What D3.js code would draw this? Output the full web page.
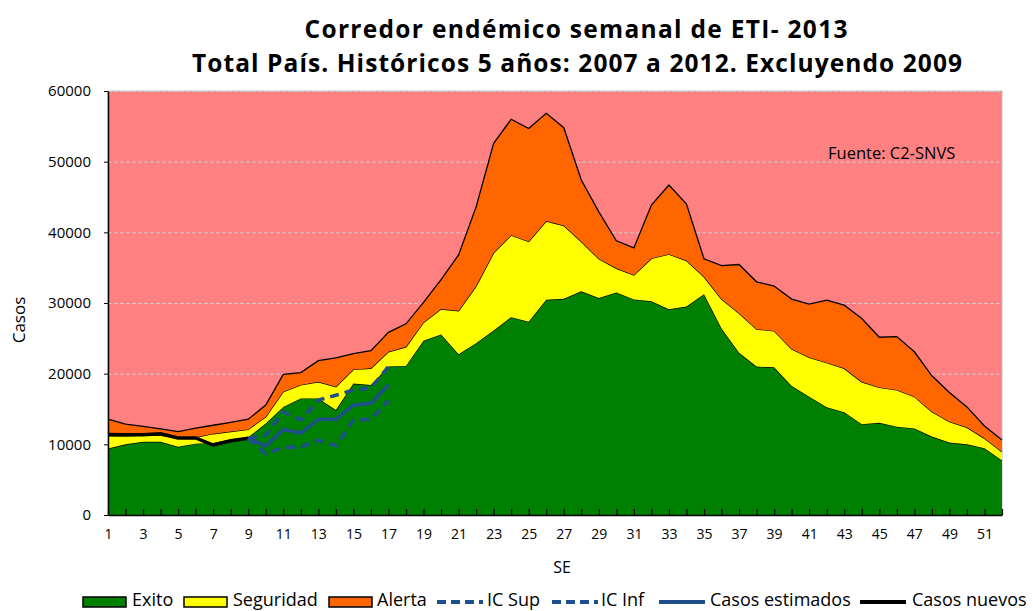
<!DOCTYPE html>
<html>
<head>
<meta charset="utf-8">
<script src="https://cdn.jsdelivr.net/npm/d3@7"></script>
<style>
  body { margin: 0; background: #fff; }
  text { font-family: "Open Sans", sans-serif; fill: #000; }
</style>
</head>
<body>
<div id="chart"></div>
<script>
// Semanas epidemiologicas
var weeks = d3.range(1, 53);

// Limites superiores de cada zona (acumulados)
var exito = [9400, 10000, 10350, 10350, 9650, 10100, 10200, 10700, 11000, 12950,
  15300, 16500, 16500, 14850, 18600, 18400, 21000, 21100, 24650, 25550,
  22750, 24300, 26100, 28000, 27350, 30450, 30600, 31650, 30700, 31500,
  30500, 30250, 29100, 29500, 31250, 26400, 22950, 21000, 20900, 18250,
  16750, 15250, 14550, 12850, 13050, 12500, 12250, 11100, 10250, 10000,
  9450, 7700];
var seguridad = [11200, 11200, 11300, 11300, 10900, 11000, 11500, 11800, 12100, 13900,
  17450, 18400, 18850, 18150, 20600, 20750, 23100, 23800, 27250, 29150,
  28900, 32400, 37100, 39600, 38700, 41600, 40950, 38700, 36250, 34900,
  33950, 36300, 36900, 36000, 33700, 30550, 28550, 26300, 26050, 23500,
  22300, 21550, 20750, 18850, 18050, 17700, 16750, 14600, 13200, 12400,
  10850, 8950];
var alerta = [13550, 12850, 12550, 12200, 11800, 12300, 12700, 13100, 13550, 15550,
  19900, 20150, 21850, 22250, 22850, 23250, 25850, 27050, 30100, 33300,
  36800, 43600, 52600, 56000, 54700, 56850, 54800, 47400, 42900, 38800,
  37800, 43850, 46700, 44000, 36250, 35300, 35450, 33000, 32400, 30550,
  29850, 30400, 29700, 27800, 25150, 25250, 23100, 19700, 17350, 15300,
  12600, 10600];

// Casos 2013
var nuevosWeeks = [1, 2, 3, 4, 5, 6, 7, 8, 9];
var casosNuevos = [11400, 11350, 11350, 11500, 10900, 10900, 9900, 10500, 10850];
var estimWeeks = [9, 10, 11, 12, 13, 14, 15, 16, 17];
var casosEstimados = [10850, 9750, 12100, 11600, 13550, 13550, 15550, 15800, 18450];
var icSup = [10850, 11300, 14600, 13450, 16250, 16950, 17700, 18000, 21000];
var icInf = [10850, 8650, 9600, 9600, 10600, 9800, 13450, 13550, 16200];

var yTicks = [0, 10000, 20000, 30000, 40000, 50000, 60000];

var width = 1033, height = 611;
var margin = {top: 91, right: 31, bottom: 96, left: 108};

var svg = d3.select("#chart")
  .append("svg")
  .attr("width", width)
  .attr("height", height);

var x = d3.scaleLinear()
  .domain([1, 52])
  .range([margin.left, width - margin.right]);

var y = d3.scaleLinear()
  .domain([0, 60000])
  .range([height - margin.bottom, margin.top]);

// fondo epidemia
svg.append("rect")
  .attr("x", x(1))
  .attr("y", y(60000))
  .attr("width", x(52) - x(1))
  .attr("height", y(0) - y(60000))
  .attr("fill", "#FF8080")
  .attr("stroke", "#BFBFBF")
  .attr("stroke-width", 1);

// grilla
svg.append("g")
  .selectAll("line")
  .data(yTicks.slice(1))
  .enter()
  .append("line")
  .attr("x1", x(1))
  .attr("x2", x(52))
  .attr("y1", d => y(d) + 0.5)
  .attr("y2", d => y(d) + 0.5)
  .attr("stroke", "#C8C8C8")
  .attr("stroke-dasharray", "4,2");

// zonas
var zonas = [
  {low: weeks.map(() => 0), high: exito, color: "#008000"},
  {low: exito, high: seguridad, color: "#FFFF00"},
  {low: seguridad, high: alerta, color: "#FF6600"}
];

var area = d3.area()
  .x((d, i) => x(weeks[i]))
  .y0(d => y(d[0]))
  .y1(d => y(d[1]));

zonas.forEach(function (z) {
  svg.append("path")
    .datum(z.high.map((v, i) => [z.low[i], v]))
    .attr("d", area)
    .attr("fill", z.color)
    .attr("stroke", "none");
  svg.append("path")
    .datum(z.high)
    .attr("d", d3.line().x((d, i) => x(weeks[i])).y(d => y(d)))
    .attr("fill", "none")
    .attr("stroke", "#000")
    .attr("stroke-width", 1.3);
});

// lineas de casos
function drawLine(ws, vals, color, dash) {
  svg.append("path")
    .datum(vals)
    .attr("d", d3.line().x((d, i) => x(ws[i])).y(d => y(d)))
    .attr("fill", "none")
    .attr("stroke", color)
    .attr("stroke-width", 3.5)
    .attr("stroke-dasharray", dash);
}
drawLine(nuevosWeeks, casosNuevos, "#000000", null);
drawLine(estimWeeks, icSup, "#1F4E8C", "9,6");
drawLine(estimWeeks, icInf, "#1F4E8C", "9,6");
drawLine(estimWeeks, casosEstimados, "#1F4E8C", null);

// ejes
var xAxis = d3.axisBottom(x)
  .tickValues(weeks)
  .tickSizeInner(-6)
  .tickSizeOuter(0)
  .tickFormat(d => d % 2 === 1 ? d : "");

var gx = svg.append("g")
  .attr("transform", "translate(0," + y(0) + ")")
  .call(xAxis);
gx.select(".domain").attr("stroke", "#000").attr("stroke-width", 1.5);
gx.selectAll(".tick line").attr("stroke", "#000").attr("stroke-width", 1.2);
gx.selectAll(".tick text")
  .attr("y", 14)
  .style("font-family", "Open Sans")
  .style("font-size", "14px");

var yAxis = d3.axisLeft(y)
  .tickValues(yTicks)
  .tickSize(4)
  .tickSizeOuter(0)
  .tickFormat(d3.format("d"));

var gy = svg.append("g")
  .attr("transform", "translate(" + x(1) + ",0)")
  .call(yAxis);
gy.select(".domain").attr("stroke", "#000").attr("stroke-width", 1.5);
gy.selectAll(".tick line").attr("stroke", "#000");
gy.selectAll(".tick text")
  .attr("x", -17)
  .style("font-family", "Open Sans")
  .style("font-size", "15px");

// titulos
svg.append("text")
  .attr("x", 576).attr("y", 38)
  .attr("text-anchor", "middle")
  .attr("textLength", 543).attr("lengthAdjust", "spacing")
  .style("font-size", "24.5px").style("font-weight", "bold")
  .text("Corredor endémico semanal de ETI- 2013");
svg.append("text")
  .attr("x", 577).attr("y", 72)
  .attr("text-anchor", "middle")
  .attr("textLength", 770).attr("lengthAdjust", "spacing")
  .style("font-size", "24.5px").style("font-weight", "bold")
  .text("Total País. Históricos 5 años: 2007 a 2012. Excluyendo 2009");

svg.append("text")
  .attr("transform", "translate(25,320) rotate(-90)")
  .attr("text-anchor", "middle")
  .style("font-size", "17px")
  .text("Casos");

svg.append("text")
  .attr("x", 562).attr("y", 573)
  .attr("text-anchor", "middle")
  .style("font-size", "16px")
  .text("SE");

svg.append("text")
  .attr("x", 828).attr("y", 159)
  .style("font-size", "16.5px")
  .text("Fuente: C2-SNVS");

// leyenda
var legend = [
  {name: "Exito", type: "box", color: "#008000", x: 83, tx: 132},
  {name: "Seguridad", type: "box", color: "#FFFF00", x: 184, tx: 233},
  {name: "Alerta", type: "box", color: "#FF6600", x: 329, tx: 377},
  {name: "IC Sup", type: "dash", color: "#1F4E8C", x: 437, tx: 487},
  {name: "IC Inf", type: "dash", color: "#1F4E8C", x: 552, tx: 601},
  {name: "Casos estimados", type: "line", color: "#1F4E8C", x: 659, tx: 710},
  {name: "Casos nuevos", type: "line", color: "#000000", x: 860, tx: 912}
];
var ly = 601;
var lg = svg.append("g");
legend.forEach(function (l) {
  if (l.type === "box") {
    lg.append("rect")
      .attr("x", l.x).attr("y", ly - 4)
      .attr("width", 43).attr("height", 10)
      .attr("fill", l.color).attr("stroke", "#000").attr("stroke-width", 1.5);
  } else {
    lg.append("line")
      .attr("x1", l.x).attr("x2", l.x + 46)
      .attr("y1", ly + 1).attr("y2", ly + 1)
      .attr("stroke", l.color).attr("stroke-width", 4)
      .attr("stroke-dasharray", l.type === "dash" ? "9,5" : null);
  }
  lg.append("text")
    .attr("x", l.tx)
    .attr("y", ly + 5)
    .style("font-size", "18px")
    .text(l.name);
});
</script>
</body>
</html>
